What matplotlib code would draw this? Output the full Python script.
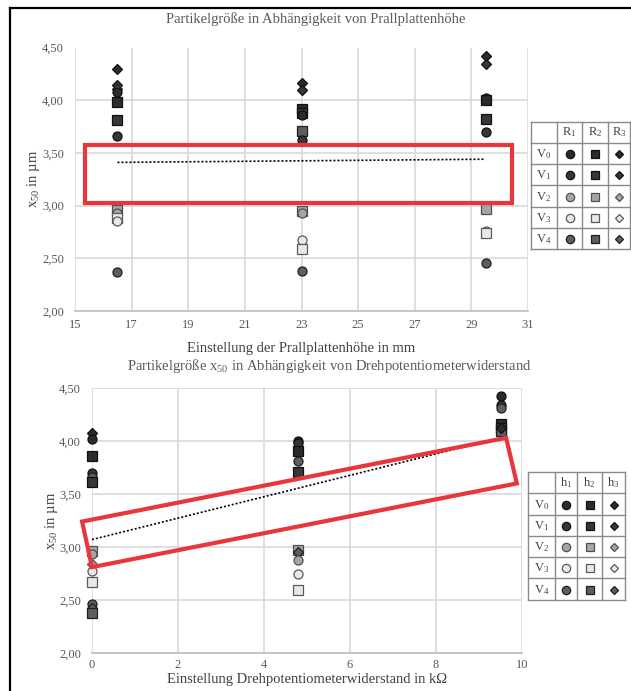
import matplotlib
matplotlib.use('Agg')
import matplotlib.pyplot as plt
from matplotlib.lines import Line2D
from matplotlib.patches import Rectangle, Polygon

plt.rcParams['font.family'] = ['Liberation Serif', 'DejaVu Serif']
plt.rcParams['mathtext.fontset'] = 'custom'
plt.rcParams['mathtext.rm'] = 'Liberation Serif'
plt.rcParams['mathtext.it'] = 'Liberation Serif:italic'

W, H = 631, 691

# Variants V0..V4 (row colours), marker shapes for the three settings
variants = ['V$_\\mathrm{0}$', 'V$_\\mathrm{1}$', 'V$_\\mathrm{2}$', 'V$_\\mathrm{3}$', 'V$_\\mathrm{4}$']
face_colors = ['#2b2b2b', '#363636', '#a6a6a6', '#e8e8e8', '#5e5e5e']
edge_colors = ['#111111', '#111111', '#505050', '#5a5a5a', '#1e1e1e']
shapes = ['o', 's', 'D']
shape_sizes = [6.5, 6.5, 4.8]

# top chart: x50 over Prallplattenhöhe, shape = R1/R2/R3
top_cols = ['R$_\\mathrm{1}$', 'R$_\\mathrm{2}$', 'R$_\\mathrm{3}$']
top_h = [16.5, 16.5, 16.5, 16.5, 16.5, 16.5, 16.5, 16.5, 16.5, 16.5, 16.5, 16.5,
         23, 23, 23, 23, 23, 23, 23, 23, 23, 23, 23, 23,
         29.5, 29.5, 29.5, 29.5, 29.5, 29.5, 29.5, 29.5, 29.5, 29.5]
top_x50 = [4.30, 4.14, 4.11, 4.08, 3.98, 3.81, 3.66, 2.96, 2.93, 2.88, 2.85, 2.37,
           4.16, 4.10, 3.92, 3.88, 3.86, 3.71, 3.62, 2.95, 2.93, 2.67, 2.59, 2.38,
           4.42, 4.34, 4.02, 4.00, 3.82, 3.70, 2.97, 2.76, 2.74, 2.46]
top_v = [0, 1, 4, 0, 0, 1, 1, 2, 2, 3, 3, 4,
         0, 1, 0, 1, 0, 4, 1, 2, 2, 3, 3, 4,
         0, 1, 0, 0, 1, 1, 2, 3, 3, 4]
top_r = [2, 2, 2, 0, 1, 1, 0, 1, 0, 1, 0, 0,
         2, 2, 1, 1, 0, 1, 0, 1, 0, 0, 1, 0,
         2, 2, 0, 1, 1, 0, 1, 0, 1, 0]
top_trend_x = [16.5, 29.5]
top_trend_y = [3.41, 3.44]
top_box = (15.35, 3.025, 30.44, 3.575)

# bottom chart: x50 over Drehpotentiometerwiderstand, shape = h1/h2/h3
bot_cols = ['h$_\\mathrm{1}$', 'h$_\\mathrm{2}$', 'h$_\\mathrm{3}$']
bot_r = [0, 0, 0, 0, 0, 0, 0, 0, 0, 0, 0, 0, 0, 0,
         4.8, 4.8, 4.8, 4.8, 4.8, 4.8, 4.8, 4.8, 4.8, 4.8,
         9.5, 9.5, 9.5, 9.5, 9.5, 9.5, 9.5]
bot_x50 = [4.08, 4.02, 3.86, 3.70, 3.66, 3.61, 2.96, 2.93, 2.84, 2.77, 2.67, 2.46, 2.42, 2.38,
           4.00, 3.98, 3.91, 3.81, 3.71, 2.97, 2.95, 2.88, 2.75, 2.59,
           4.42, 4.34, 4.31, 4.16, 4.12, 4.09, 4.12]
bot_v = [0, 0, 0, 1, 4, 1, 2, 2, 2, 3, 3, 4, 4, 4,
         0, 1, 0, 4, 1, 2, 4, 2, 3, 3,
         0, 1, 4, 0, 1, 4, 0]
bot_h = [2, 0, 1, 0, 0, 1, 1, 0, 2, 0, 1, 0, 2, 1,
         0, 0, 1, 0, 1, 1, 2, 0, 0, 1,
         0, 0, 0, 1, 1, 1, 2]
bot_trend_x = [0, 9.5]
bot_trend_y = [3.07, 4.03]
bot_box = [(-0.23, 3.24), (0.0, 2.81), (9.88, 3.60), (9.63, 4.03)]

text_gray = '#595959'
grid_gray = '#d9d9d9'
red = '#e8363c'


def fx(px):
    return px / W


def fy(py):
    return 1 - py / H


def style_axes(ax, xmin, xmax, xstep, xlabel, ylabel_x, xpad):
    ax.set_xlim(xmin, xmax)
    ax.set_ylim(2.0, 4.5)
    ax.set_xticks(range(xmin, xmax + 1, xstep))
    ax.set_yticks([2.0, 2.5, 3.0, 3.5, 4.0, 4.5])
    ax.set_yticklabels(['2,00', '2,50', '3,00', '3,50', '4,00', '4,50'])
    ax.grid(True, color=grid_gray, linewidth=1.2)
    ax.set_axisbelow(True)
    for s in ['top', 'right', 'left']:
        ax.spines[s].set_visible(False)
    ax.spines['bottom'].set_color('#bfbfbf')
    ax.spines['bottom'].set_linewidth(1.2)
    ax.tick_params(length=0, labelsize=9, labelcolor=text_gray)
    ax.tick_params(axis='y', pad=8)
    ax.tick_params(axis='x', pad=6)
    ax.set_xlabel(xlabel, fontsize=10.5, color='#404040', labelpad=xpad)
    ax.set_ylabel('x$_\\mathrm{50}$ in µm', fontsize=10.5, color='#404040')
    ax.yaxis.set_label_coords(ylabel_x, 0.5)


def scatter_points(ax, xs, ys, vs, ms):
    for x, y, v, m in zip(xs, ys, vs, ms):
        ax.plot(x, y, linestyle='none', marker=shapes[m], markersize=shape_sizes[m],
                markerfacecolor=face_colors[v], markeredgecolor=edge_colors[v],
                markeredgewidth=0.9, zorder=3, clip_on=False)


def draw_table(fig, col_px, row_px, headers):
    lc = '#8a8a8a'
    for x in col_px:
        fig.add_artist(Line2D([fx(x), fx(x)], [fy(row_px[0]), fy(row_px[-1])],
                              color=lc, linewidth=1.0))
    for y in row_px:
        fig.add_artist(Line2D([fx(col_px[0]), fx(col_px[-1])], [fy(y), fy(y)],
                              color=lc, linewidth=1.0))
    for j, hd in enumerate(headers):
        cx = (col_px[j + 1] + col_px[j + 2]) / 2
        cy = (row_px[0] + row_px[1]) / 2
        fig.text(fx(cx), fy(cy), hd, ha='center', va='center', fontsize=9, color='#404040')
    for i, name in enumerate(variants):
        cy = (row_px[i + 1] + row_px[i + 2]) / 2
        cx = (col_px[0] + col_px[1]) / 2
        fig.text(fx(cx), fy(cy + 1), name, ha='center', va='center', fontsize=9, color='#404040')
        for j in range(3):
            mx = (col_px[j + 1] + col_px[j + 2]) / 2
            fig.add_artist(Line2D([fx(mx)], [fy(cy + 0.5)], linestyle='none', marker=shapes[j],
                                  markersize=shape_sizes[j] - 0.5, markerfacecolor=face_colors[i],
                                  markeredgecolor=edge_colors[i], markeredgewidth=0.9))


fig = plt.figure(figsize=(W / 100, H / 100), dpi=100)

# ---- top chart
ax1 = fig.add_axes([fx(75), fy(311), (528 - 75) / W, (311 - 47.5) / H])
style_axes(ax1, 15, 31, 2, 'Einstellung der Prallplattenhöhe in mm', -0.072, 8)
scatter_points(ax1, top_h, top_x50, top_v, top_r)
ax1.plot(top_trend_x, top_trend_y, color='black', linestyle=(0, (1.2, 1.2)), linewidth=1.2, zorder=4)
ax1.add_patch(Rectangle((top_box[0], top_box[1]), top_box[2] - top_box[0], top_box[3] - top_box[1],
                        fill=False, edgecolor=red, linewidth=3, clip_on=False, zorder=5))
fig.text(fx(316), fy(19), 'Partikelgröße in Abhängigkeit von Prallplattenhöhe',
         ha='center', va='center', fontsize=10.5, color=text_gray)

# ---- bottom chart
ax2 = fig.add_axes([fx(92), fy(653), (522 - 92) / W, (653 - 388) / H])
style_axes(ax2, 0, 10, 2, 'Einstellung Drehpotentiometerwiderstand in kΩ', -0.075, 1.5)
ax2.tick_params(axis='x', pad=4)
scatter_points(ax2, bot_r, bot_x50, bot_v, bot_h)
ax2.plot(bot_trend_x, bot_trend_y, color='black', linestyle=(0, (1.2, 1.2)), linewidth=1.2, zorder=4)
ax2.add_patch(Polygon(bot_box, closed=True, fill=False, edgecolor=red, linewidth=3,
                      clip_on=False, zorder=5))
fig.text(fx(329), fy(366), 'Partikelgröße x$_\\mathrm{50}$ in Abhängigkeit von Drehpotentiometerwiderstand',
         ha='center', va='center', fontsize=10.5, color=text_gray)

# ---- marker tables
draw_table(fig, [531, 557, 582, 608, 630], [122, 143, 164, 185, 207, 228, 249], top_cols)
draw_table(fig, [528, 555, 577, 602, 625], [472, 493, 515, 536, 557, 578, 600], bot_cols)

# frame of the page
fig.add_artist(Line2D([fx(10), fx(10)], [fy(8), 0], color='black', linewidth=1.6))
fig.add_artist(Line2D([fx(10), 1], [fy(8), fy(8)], color='black', linewidth=1.6))

fig.savefig('out.png', dpi=100)
